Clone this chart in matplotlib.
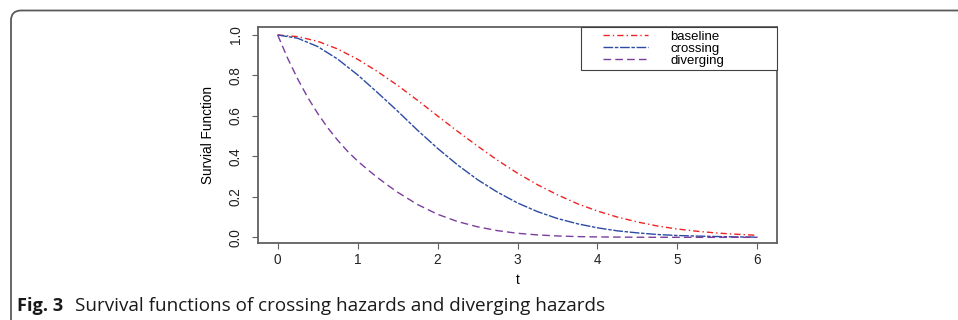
import numpy as np
import matplotlib
matplotlib.use("Agg")
import matplotlib.pyplot as plt
from matplotlib.patches import FancyBboxPatch
from matplotlib.legend_handler import HandlerLine2D

# ---- data ----
t = [0.0, 0.25, 0.5, 0.75, 1.0, 1.25, 1.5, 1.75, 2.0, 2.25, 2.5, 2.75, 3.0,
     3.25, 3.5, 3.75, 4.0, 4.25, 4.5, 4.75, 5.0, 5.25, 5.5, 5.75, 6.0]
baseline = [1.0, 0.992, 0.969, 0.931, 0.880, 0.819, 0.751, 0.677, 0.600, 0.524,
            0.451, 0.381, 0.317, 0.260, 0.210, 0.166, 0.130, 0.100, 0.076,
            0.056, 0.041, 0.030, 0.021, 0.015, 0.010]
crossing = [1.0, 0.984, 0.943, 0.881, 0.803, 0.715, 0.624, 0.529, 0.440, 0.358,
            0.285, 0.223, 0.170, 0.127, 0.093, 0.067, 0.047, 0.032, 0.022,
            0.014, 0.009, 0.006, 0.004, 0.002, 0.001]
t_div = [0.0, 0.125, 0.25, 0.375, 0.5, 0.625, 0.75, 0.875, 1.0, 1.125, 1.25,
         1.375, 1.5, 1.75, 2.0, 2.25, 2.5, 2.75, 3.0, 3.25, 3.5, 3.75, 4.0,
         4.5, 5.0, 5.5, 6.0]
diverging = [1.0, 0.885, 0.783, 0.692, 0.613, 0.542, 0.480, 0.425, 0.377,
             0.335, 0.295, 0.258, 0.223, 0.162, 0.114, 0.078, 0.052, 0.033,
             0.020, 0.012, 0.0067, 0.0037, 0.0020, 0.0005, 0.0001, 0.0, 0.0]
series_labels = ["baseline", "crossing", "diverging"]
xticks = [0, 1, 2, 3, 4, 5, 6]
yticks = [0.0, 0.2, 0.4, 0.6, 0.8, 1.0]
ytick_labels = ["0.0", "0.2", "0.4", "0.6", "0.8", "1.0"]
xlabel = "t"
ylabel = "Survial Function"
caption_bold = "Fig. 3"
caption_text = "Survival functions of crossing hazards and diverging hazards"

# ---- styling ----
W, H = 958, 320
colors = ["#EE2424", "#2B4AA2", "#7B3E9F"]
styles = [(0, (4.5, 2.2, 1.0, 2.2)), (0, (7, 1.2, 2.5, 1.2)), (0, (5.5, 3.0))]
axis_grey = "#606060"

plt.rcParams["font.family"] = ["Liberation Sans", "DejaVu Sans"]

fig = plt.figure(figsize=(W / 100, H / 100), dpi=100)
ax_left, ax_right, ax_top, ax_bottom = 258, 777, 27, 243
ax = fig.add_axes([ax_left / W, 1 - ax_bottom / H,
                   (ax_right - ax_left) / W, (ax_bottom - ax_top) / H])

xs = [t, t, t_div]
series = [baseline, crossing, diverging]
for x, vals, c, ls, lab in zip(xs, series, colors, styles, series_labels):
    ax.plot(x, vals, color=c, linestyle=ls, linewidth=1.0, label=lab)

ax.set_xlim(-0.246, 6.246)
ax.set_ylim(-0.028, 1.0395)
ax.set_xticks(xticks)
ax.set_xticklabels([str(v) for v in xticks])
ax.set_yticks(yticks)
ax.set_yticklabels(ytick_labels, rotation=90, va="center")
ax.tick_params(axis="both", direction="out", length=4.3, width=0.8,
               colors="#222222", labelsize=9.8, color=axis_grey)
ax.tick_params(axis="x", pad=3.0)
ax.tick_params(axis="y", pad=6.5)
for sp in ax.spines.values():
    sp.set_color(axis_grey)
    sp.set_linewidth(1.3)

ax.set_xlabel(xlabel, fontsize=9.8, labelpad=4.5)
ax.set_ylabel(ylabel, fontsize=9.8, labelpad=10)


class OffsetHandler(HandlerLine2D):
    def __init__(self, frac, **kw):
        super().__init__(**kw)
        self.frac = frac

    def get_xdata(self, legend, xdescent, ydescent, width, height, fontsize):
        xd = np.array([-xdescent + width * self.frac, -xdescent + width])
        return xd, xd


handles = ax.get_lines()
leg_left = (581 - ax_left) / (ax_right - ax_left)
leg = ax.legend(handles=handles, labels=series_labels, loc="upper left",
                bbox_to_anchor=(leg_left, 0, 1 - leg_left, 1.0), mode="expand",
                fontsize=9.5, frameon=True, fancybox=False, edgecolor="#404040",
                framealpha=1, borderaxespad=0, borderpad=0.25, labelspacing=0.0,
                handlelength=4.8, handletextpad=1.7,
                handler_map={h: OffsetHandler(0.30) for h in handles})
leg.get_frame().set_linewidth(0.8)

# page frame with rounded corner
frame = FancyBboxPatch((11, -40), 1000, (H - 10.5) + 40,
                       boxstyle="round,pad=0,rounding_size=10",
                       transform=None, fill=False, edgecolor="#5a5a5a",
                       linewidth=1.3)
fig.patches.append(frame)

# caption
tb = fig.text(17 / W, 1 - 311 / H, caption_bold, fontsize=12.5,
              fontweight="bold", family=["Open Sans", "DejaVu Sans"],
              ha="left", va="baseline", color="#1a1a1a")
tr = fig.text(75 / W, 1 - 311 / H, caption_text, fontsize=12.5,
              family=["Open Sans", "DejaVu Sans"], ha="left", va="baseline",
              color="#1a1a1a")
fig.canvas.draw()
r = fig.canvas.get_renderer()
wr = tr.get_window_extent(r).width
tr.set_fontsize(12.5 * 531 / wr)
wb = tb.get_window_extent(r).width
tb.set_fontsize(12.5 * 46 / wb)

fig.savefig("out.png", dpi=100)
